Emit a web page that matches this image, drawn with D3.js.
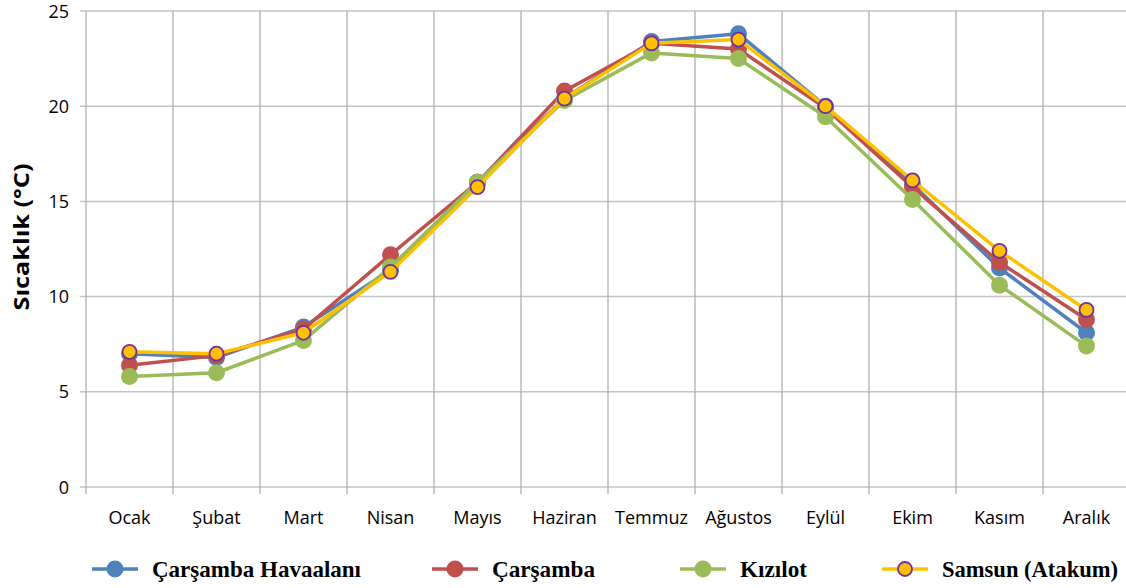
<!DOCTYPE html>
<html><head><meta charset="utf-8">
<script src="https://cdn.jsdelivr.net/npm/d3@7"></script>
<style>body{margin:0;background:#fff}svg{display:block}</style>
</head><body>
<svg id="c" width="1126" height="588"></svg>
<script>
const months = ["Ocak","Şubat","Mart","Nisan","Mayıs","Haziran","Temmuz","Ağustos","Eylül","Ekim","Kasım","Aralık"];
const seriesNames = ["Çarşamba Havaalanı","Çarşamba","Kızılot","Samsun (Atakum)"];
const havaalani = [7.0, 6.8, 8.4, 11.4, 16.0, 20.4, 23.4, 23.8, 20.0, 15.9, 11.5, 8.1];
const carsamba  = [6.4, 6.9, 8.3, 12.2, 16.0, 20.8, 23.3, 23.0, 19.9, 15.75, 11.8, 8.8];
const kizilot   = [5.8, 6.0, 7.7, 11.55, 16.0, 20.3, 22.8, 22.5, 19.45, 15.1, 10.6, 7.4];
const samsun    = [7.1, 7.0, 8.1, 11.3, 15.75, 20.4, 23.3, 23.5, 20.0, 16.1, 12.4, 9.3];
const yTicks = [0,5,10,15,20,25];
const seriesValues = [havaalani, carsamba, kizilot, samsun];
const colors = ["#4F81BD","#C0504D","#9BBB59","#FFC000"];

const svg = d3.select("#c");
const L = 86, R = 1130, T = 11, B = 487;
const x = d3.scaleBand().domain(months).range([L, R]).padding(0);
const y = d3.scaleLinear().domain([0,25]).range([B, T]);

// horizontal gridlines
svg.append("g").selectAll("line").data(yTicks).join("line")
  .attr("x1", L-6).attr("x2", R).attr("y1", d=>y(d)).attr("y2", d=>y(d))
  .attr("stroke", "#c4c4c4").attr("stroke-width", 1.5);
// vertical gridlines
const vx = months.map((m)=>x(m)).concat([R]);
svg.append("g").selectAll("line").data(vx).join("line")
  .attr("x1", d=>d).attr("x2", d=>d).attr("y1", T).attr("y2", B+7)
  .attr("stroke", "#a8a8a8").attr("stroke-width", 1.2);

// y tick labels
svg.append("g").selectAll("text").data(yTicks).join("text")
  .attr("x", 69).attr("y", d=>y(d)+6.5).attr("text-anchor","end")
  .attr("font-family","Open Sans, sans-serif").attr("font-size",18).attr("fill","#000")
  .text(d=>d);
// x tick labels
svg.append("g").selectAll("text").data(months).join("text")
  .attr("x", d=>x(d)+x.bandwidth()/2).attr("y", 524).attr("text-anchor","middle")
  .attr("font-family","Open Sans, sans-serif").attr("font-size",18).attr("fill","#000")
  .text(d=>d);
// y title
svg.append("text").attr("transform","translate(29,237) rotate(-90)")
  .attr("text-anchor","middle").attr("font-family","Open Sans, sans-serif")
  .attr("font-weight","bold").attr("font-size",21)
  .attr("textLength",147).attr("lengthAdjust","spacingAndGlyphs").text("Sıcaklık (°C)");

const line = d3.line().x((d,i)=>x(months[i])+x.bandwidth()/2).y(d=>y(d));
seriesValues.forEach((vals, s)=>{
  const g = svg.append("g");
  g.append("path").datum(vals).attr("d", line).attr("fill","none")
    .attr("stroke", colors[s]).attr("stroke-width", 3.5).attr("stroke-linejoin","round");
  g.selectAll("circle").data(vals).join("circle")
    .attr("cx",(d,i)=>x(months[i])+x.bandwidth()/2).attr("cy", d=>y(d))
    .attr("r", s===3 ? 7 : 8.5)
    .attr("fill", colors[s])
    .attr("stroke", s===3 ? "#7030A0" : "none").attr("stroke-width", 1.8);
});

// legend
const legX = [115, 455, 703, 905];
const legTextLen = [209, 103, 67, 176];
const legY = 569;
seriesNames.forEach((n, s)=>{
  const g = svg.append("g");
  g.append("line").attr("x1", legX[s]-23).attr("x2", legX[s]+23).attr("y1", legY).attr("y2", legY)
    .attr("stroke", colors[s]).attr("stroke-width", 3.5);
  g.append("circle").attr("cx", legX[s]).attr("cy", legY).attr("r", s===3 ? 7 : 8.5)
    .attr("fill", colors[s]).attr("stroke", s===3 ? "#7030A0" : "none").attr("stroke-width", 1.8);
  g.append("text").attr("x", legX[s]+37).attr("y", legY+8)
    .attr("font-family","Liberation Serif, serif").attr("font-weight","bold").attr("font-size",23)
    .attr("textLength", legTextLen[s]).attr("lengthAdjust","spacingAndGlyphs")
    .text(n);
});
</script>
</body></html>
